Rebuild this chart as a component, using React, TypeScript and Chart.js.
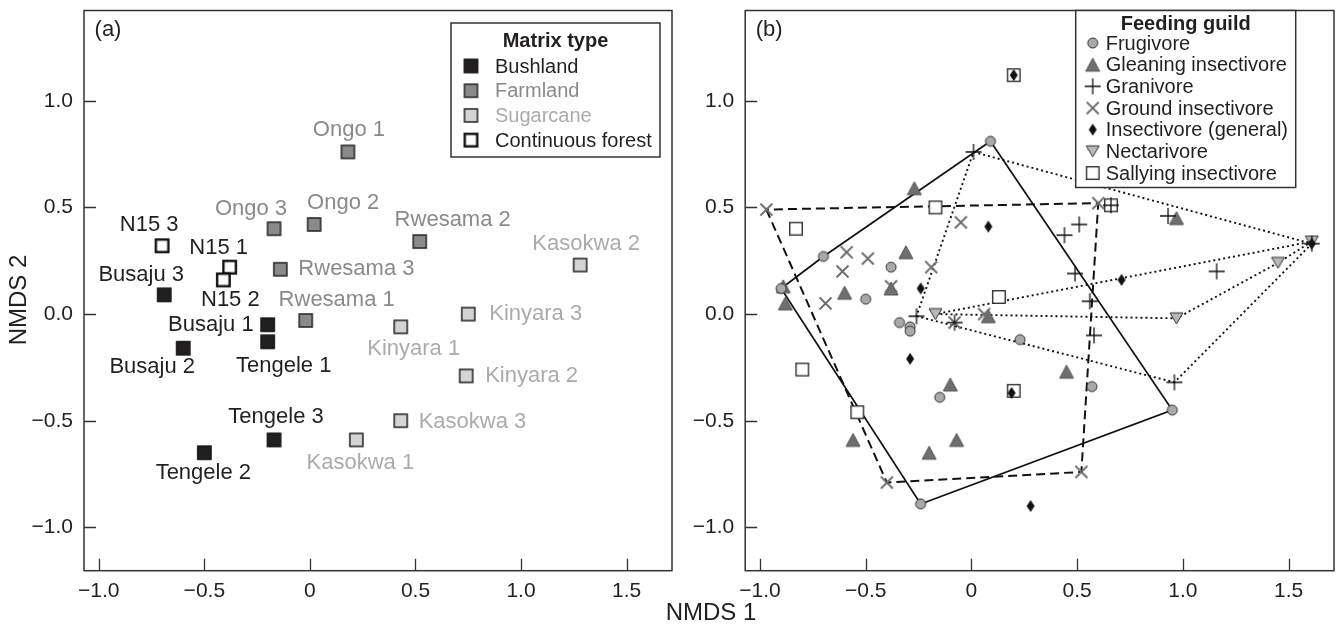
import React, { useEffect, useRef } from "react";
import { Chart, registerables } from "chart.js";
Chart.register(...registerables);

// ---------------- DATA ----------------
const xTickValues = [-1, -0.5, 0, 0.5, 1, 1.5];
const xTickLabels = ["−1.0", "−0.5", "0", "0.5", "1.0", "1.5"];
const yTickValues = [-1, -0.5, 0, 0.5, 1];
const yTickLabels = ["−1.0", "−0.5", "0.0", "0.5", "1.0"];

// Panel (a): sites by matrix type
const bushlandSites = ["Busaju 1", "Busaju 2", "Busaju 3", "Tengele 1", "Tengele 2", "Tengele 3"];
const bushlandX = [-0.2, -0.6, -0.69, -0.2, -0.5, -0.17];
const bushlandY = [-0.05, -0.16, 0.09, -0.13, -0.65, -0.59];

const farmlandSites = ["Ongo 1", "Ongo 2", "Ongo 3", "Rwesama 1", "Rwesama 2", "Rwesama 3"];
const farmlandX = [0.18, 0.02, -0.17, -0.02, 0.52, -0.14];
const farmlandY = [0.76, 0.42, 0.4, -0.03, 0.34, 0.21];

const sugarcaneSites = ["Kasokwa 1", "Kasokwa 2", "Kasokwa 3", "Kinyara 1", "Kinyara 2", "Kinyara 3"];
const sugarcaneX = [0.22, 1.28, 0.43, 0.43, 0.74, 0.75];
const sugarcaneY = [-0.59, 0.23, -0.5, -0.06, -0.29, 0.0];

const forestSites = ["N15 1", "N15 2", "N15 3"];
const forestX = [-0.38, -0.41, -0.7];
const forestY = [0.22, 0.16, 0.32];

// Panel (b): species by feeding guild
const frugivoreX = [0.09, -0.7, -0.9, -0.38, -0.5, -0.34, -0.29, -0.29, 0.23, 0.57, -0.15, 0.95, -0.24];
const frugivoreY = [0.81, 0.27, 0.12, 0.22, 0.07, -0.04, -0.06, -0.08, -0.12, -0.34, -0.39, -0.45, -0.89];

const gleaningX = [-0.27, 0.97, -0.31, -0.89, -0.88, -0.6, -0.38, 0.08, 0.45, -0.1, -0.56, -0.07, -0.2];
const gleaningY = [0.59, 0.45, 0.29, 0.13, 0.05, 0.1, 0.12, -0.01, -0.27, -0.33, -0.59, -0.59, -0.65];

const granivoreX = [0.01, 0.93, 0.44, 0.51, 0.49, 1.16, 0.56, -0.26, 0.58, 0.96, 1.61, 0.66, -0.08];
const granivoreY = [0.76, 0.46, 0.37, 0.42, 0.19, 0.2, 0.06, -0.01, -0.1, -0.32, 0.33, 0.51, -0.04];

const groundX = [-0.97, 0.6, -0.05, -0.59, -0.49, -0.61, -0.19, -0.38, -0.69, -0.08, 0.06, -0.4, 0.52];
const groundY = [0.49, 0.52, 0.43, 0.29, 0.26, 0.2, 0.22, 0.13, 0.05, -0.04, 0.0, -0.79, -0.74];

const insectivoreX = [0.2, 0.08, 0.71, -0.24, 1.61, -0.29, 0.19, 0.28];
const insectivoreY = [1.12, 0.41, 0.16, 0.12, 0.33, -0.21, -0.37, -0.9];

const nectarivoreX = [-0.17, 0.97, 1.45, 1.61];
const nectarivoreY = [0.0, -0.02, 0.24, 0.34];

const sallyingX = [-0.17, -0.83, 0.13, 0.66, 0.2, -0.8, -0.54, 0.2];
const sallyingY = [0.5, 0.4, 0.08, 0.51, 1.12, -0.26, -0.46, -0.36];

// ---------------- STYLE / LAYOUT ----------------
const FONT = "'Liberation Sans', Arial, Helvetica, sans-serif";
const INK = "#231f20";
const X_MIN = -1.07, X_MAX = 1.715, Y_MIN = -1.203, Y_MAX = 1.423;

const siteLabelPlacement: Record<string, [number, number, CanvasTextAlign]> = {
  "Busaju 1": [-14, 0, "right"],
  "Busaju 2": [-31, 19, "center"],
  "Busaju 3": [-23, -20, "center"],
  "Tengele 1": [16, 24, "center"],
  "Tengele 2": [-1, 20, "center"],
  "Tengele 3": [2, -23, "center"],
  "Ongo 1": [1, -22, "center"],
  "Ongo 2": [29, -22, "center"],
  "Ongo 3": [-23, -20, "center"],
  "Rwesama 1": [31, -21, "center"],
  "Rwesama 2": [33, -22, "center"],
  "Rwesama 3": [18, 0, "left"],
  "Kasokwa 1": [4, 23, "center"],
  "Kasokwa 2": [6, -21, "center"],
  "Kasokwa 3": [18, 1, "left"],
  "Kinyara 1": [13, 22, "center"],
  "Kinyara 2": [19, 0, "left"],
  "Kinyara 3": [21, 0, "left"],
  "N15 1": [-11, -19, "center"],
  "N15 2": [7, 20, "center"],
  "N15 3": [-13, -21, "center"],
};

type Pt = { x: number; y: number };
const toPts = (xs: number[], ys: number[]): Pt[] => xs.map((x, i) => ({ x, y: ys[i] }));

function convexHull(pts: Pt[]): Pt[] {
  const p = [...pts].sort((a, b) => a.x - b.x || a.y - b.y);
  const cr = (o: Pt, a: Pt, b: Pt) => (a.x - o.x) * (b.y - o.y) - (a.y - o.y) * (b.x - o.x);
  const lower: Pt[] = [];
  for (const q of p) {
    while (lower.length >= 2 && cr(lower[lower.length - 2], lower[lower.length - 1], q) <= 0) lower.pop();
    lower.push(q);
  }
  const upper: Pt[] = [];
  for (const q of [...p].reverse()) {
    while (upper.length >= 2 && cr(upper[upper.length - 2], upper[upper.length - 1], q) <= 0) upper.pop();
    upper.push(q);
  }
  upper.pop();
  lower.pop();
  const h = lower.concat(upper);
  h.push(h[0]);
  return h;
}

// ----- marker canvases -----
function mk(w: number, h: number, draw: (ctx: CanvasRenderingContext2D, cx: number, cy: number) => void) {
  const c = document.createElement("canvas");
  c.width = w;
  c.height = h;
  const ctx = c.getContext("2d")!;
  draw(ctx, w / 2, h / 2);
  return c;
}
const squareM = (side: number, fill: string, stroke: string, lw: number) =>
  mk(Math.ceil(side + lw + 2), Math.ceil(side + lw + 2), (ctx, cx, cy) => {
    ctx.fillStyle = fill;
    ctx.fillRect(cx - side / 2, cy - side / 2, side, side);
    ctx.strokeStyle = stroke;
    ctx.lineWidth = lw;
    ctx.strokeRect(cx - side / 2, cy - side / 2, side, side);
  });
const circleM = (d: number, fill: string, stroke: string, lw: number) =>
  mk(d + 4, d + 4, (ctx, cx, cy) => {
    ctx.beginPath();
    ctx.arc(cx, cy, d / 2, 0, Math.PI * 2);
    ctx.fillStyle = fill;
    ctx.fill();
    ctx.strokeStyle = stroke;
    ctx.lineWidth = lw;
    ctx.stroke();
  });
const triM = (w: number, h: number, fill: string, stroke: string, lw: number, down: boolean) =>
  mk(w + 4, h + 4, (ctx, cx, cy) => {
    ctx.beginPath();
    if (!down) {
      ctx.moveTo(cx, cy - h / 2);
      ctx.lineTo(cx + w / 2, cy + h / 2);
      ctx.lineTo(cx - w / 2, cy + h / 2);
    } else {
      ctx.moveTo(cx, cy + h / 2);
      ctx.lineTo(cx + w / 2, cy - h / 2);
      ctx.lineTo(cx - w / 2, cy - h / 2);
    }
    ctx.closePath();
    ctx.fillStyle = fill;
    ctx.fill();
    ctx.strokeStyle = stroke;
    ctx.lineWidth = lw;
    ctx.stroke();
  });
const plusM = (len: number, stroke: string, lw: number) =>
  mk(len + 2, len + 2, (ctx, cx, cy) => {
    ctx.beginPath();
    ctx.moveTo(cx - len / 2, cy);
    ctx.lineTo(cx + len / 2, cy);
    ctx.moveTo(cx, cy - len / 2);
    ctx.lineTo(cx, cy + len / 2);
    ctx.strokeStyle = stroke;
    ctx.lineWidth = lw;
    ctx.stroke();
  });
const crossM = (len: number, stroke: string, lw: number) =>
  mk(len + 3, len + 3, (ctx, cx, cy) => {
    const r = len / 2;
    ctx.beginPath();
    ctx.moveTo(cx - r, cy - r);
    ctx.lineTo(cx + r, cy + r);
    ctx.moveTo(cx + r, cy - r);
    ctx.lineTo(cx - r, cy + r);
    ctx.strokeStyle = stroke;
    ctx.lineWidth = lw;
    ctx.stroke();
  });
const diamondM = (w: number, h: number, fill: string) =>
  mk(w + 2, h + 2, (ctx, cx, cy) => {
    ctx.beginPath();
    ctx.moveTo(cx, cy - h / 2);
    ctx.lineTo(cx + w / 2, cy);
    ctx.lineTo(cx, cy + h / 2);
    ctx.lineTo(cx - w / 2, cy);
    ctx.closePath();
    ctx.fillStyle = fill;
    ctx.fill();
  });

type LegendItem = { label: string; color: string; marker: HTMLCanvasElement };
type Decor = {
  panelLabel: string;
  legend: {
    title: string;
    rightInset: number;
    topInset: number;
    width: number;
    height: number;
    titleDy: number;
    itemDy0: number;
    itemStep: number;
    markerDx: number;
    textDx: number;
    items: LegendItem[];
  };
  siteLabels?: { datasetIndex: number; names: string[]; color: string }[];
};

function decorPlugin(decor: Decor) {
  return {
    id: "decor",
    afterDraw(chart: any) {
      const ctx: CanvasRenderingContext2D = chart.ctx;
      const ca = chart.chartArea;
      const xs = chart.scales.x;
      const ys = chart.scales.y;
      ctx.save();
      // inward ticks
      ctx.strokeStyle = "#333";
      ctx.lineWidth = 1.3;
      ctx.beginPath();
      for (const v of xTickValues) {
        const px = Math.round(xs.getPixelForValue(v)) + 0.5;
        ctx.moveTo(px, ca.bottom);
        ctx.lineTo(px, ca.bottom - 12);
      }
      for (const v of yTickValues) {
        const py = Math.round(ys.getPixelForValue(v)) + 0.5;
        ctx.moveTo(ca.left, py);
        ctx.lineTo(ca.left + 12, py);
      }
      ctx.stroke();
      // frame
      ctx.lineWidth = 1.5;
      ctx.strokeRect(ca.left, ca.top, ca.right - ca.left, ca.bottom - ca.top);

      // site labels
      if (decor.siteLabels) {
        ctx.font = `22px ${FONT}`;
        ctx.textBaseline = "middle";
        for (const s of decor.siteLabels) {
          const meta = chart.getDatasetMeta(s.datasetIndex);
          meta.data.forEach((el: any, i: number) => {
            const name = s.names[i];
            const [dx, dy, align] = siteLabelPlacement[name] || [0, -20, "center"];
            ctx.fillStyle = s.color;
            ctx.textAlign = align;
            ctx.fillText(name, el.x + dx, el.y + dy);
          });
        }
      }

      // panel label
      ctx.font = `22px ${FONT}`;
      ctx.fillStyle = INK;
      ctx.textAlign = "center";
      ctx.textBaseline = "middle";
      ctx.fillText(decor.panelLabel, ca.left + 24, ca.top + 19);

      // legend
      const L = decor.legend;
      const bx = ca.right - L.rightInset - L.width;
      const by = ca.top + L.topInset;
      ctx.fillStyle = "#fff";
      ctx.fillRect(bx, by, L.width, L.height);
      ctx.strokeStyle = "#333";
      ctx.lineWidth = 1.5;
      ctx.strokeRect(bx, by, L.width, L.height);
      ctx.font = `bold 20px ${FONT}`;
      ctx.fillStyle = INK;
      ctx.textAlign = "center";
      ctx.fillText(L.title, bx + L.width / 2, by + L.titleDy);
      ctx.font = `20px ${FONT}`;
      ctx.textAlign = "left";
      L.items.forEach((it, i) => {
        const y = by + L.itemDy0 + i * L.itemStep;
        const m = it.marker;
        ctx.drawImage(m, bx + L.markerDx - m.width / 2, y - m.height / 2);
        ctx.fillStyle = it.color;
        ctx.fillText(it.label, bx + L.textDx, y + 1);
      });
      ctx.restore();
    },
  };
}

function scalesConfig(yWidth: number) {
  return {
    x: {
      type: "linear",
      min: X_MIN,
      max: X_MAX,
      grid: { display: false, drawTicks: false },
      border: { display: false },
      afterBuildTicks: (s: any) => {
        s.ticks = xTickValues.map((v) => ({ value: v }));
      },
      afterFit: (s: any) => {
        s.height = 45;
        s.paddingLeft = 0;
        s.paddingRight = 0;
        s.paddingTop = 0;
        s.paddingBottom = 0;
      },
      ticks: {
        padding: 8,
        color: INK,
        font: { family: FONT, size: 21 },
        maxRotation: 0,
        autoSkip: false,
        callback: (v: number) => xTickLabels[xTickValues.findIndex((t) => Math.abs(t - v) < 1e-9)] ?? "",
      },
    },
    y: {
      type: "linear",
      min: Y_MIN,
      max: Y_MAX,
      grid: { display: false, drawTicks: false },
      border: { display: false },
      afterBuildTicks: (s: any) => {
        s.ticks = yTickValues.map((v) => ({ value: v }));
      },
      afterFit: (s: any) => {
        s.width = yWidth;
        s.paddingLeft = 0;
        s.paddingRight = 0;
        s.paddingTop = 0;
        s.paddingBottom = 0;
      },
      ticks: {
        padding: 11,
        color: INK,
        font: { family: FONT, size: 21 },
        autoSkip: false,
        callback: (v: number) => yTickLabels[yTickValues.findIndex((t) => Math.abs(t - v) < 1e-9)] ?? "",
      },
    },
  };
}

export default function App() {
  const refA = useRef<HTMLCanvasElement>(null);
  const refB = useRef<HTMLCanvasElement>(null);

  useEffect(() => {
    // markers panel a
    const mBush = squareM(13.5, "#231f20", "#111", 1.2);
    const mFarm = squareM(13, "#8a8a8a", "#2b2b2b", 1.6);
    const mSugar = squareM(13, "#d4d4d4", "#2b2b2b", 1.6);
    const mForest = squareM(12.5, "#ffffff", "#111", 2.4);

    // markers panel b
    const mFrug = circleM(10, "#a9a9a9", "#333", 1);
    const mGlean = triM(14, 13, "#6f6f6f", "#555", 1, false);
    const mGran = plusM(16, "#111", 1.3);
    const mGround = crossM(12, "#6b6b6b", 1.8);
    const mInsect = diamondM(8, 12, "#111");
    const mNect = triM(13, 11, "#b8b8b8", "#333", 1, true);
    const mSally = squareM(12.5, "#ffffff", "#222", 1.3);

    const common = {
      responsive: false,
      animation: false,
      events: [],
      plugins: { legend: { display: false }, tooltip: { enabled: false } },
    };

    const chartA = new Chart(refA.current!, {
      type: "scatter",
      data: {
        datasets: [
          { data: toPts(bushlandX, bushlandY), pointStyle: mBush, pointRadius: 7 },
          { data: toPts(farmlandX, farmlandY), pointStyle: mFarm, pointRadius: 7 },
          { data: toPts(sugarcaneX, sugarcaneY), pointStyle: mSugar, pointRadius: 7 },
          { data: toPts(forestX, forestY), pointStyle: mForest, pointRadius: 7 },
        ] as any,
      },
      options: {
        ...common,
        layout: { padding: { left: 0, right: 2.8, top: 10.5, bottom: 10.3 } },
        scales: scalesConfig(84) as any,
      } as any,
      plugins: [
        decorPlugin({
          panelLabel: "(a)",
          siteLabels: [
            { datasetIndex: 0, names: bushlandSites, color: INK },
            { datasetIndex: 1, names: farmlandSites, color: "#8a8a8a" },
            { datasetIndex: 2, names: sugarcaneSites, color: "#ababab" },
            { datasetIndex: 3, names: forestSites, color: INK },
          ],
          legend: {
            title: "Matrix type",
            rightInset: 12,
            topInset: 12.5,
            width: 209,
            height: 134,
            titleDy: 18,
            itemDy0: 43,
            itemStep: 24.7,
            markerDx: 20,
            textDx: 44,
            items: [
              { label: "Bushland", color: INK, marker: mBush },
              { label: "Farmland", color: "#8a8a8a", marker: mFarm },
              { label: "Sugarcane", color: "#ababab", marker: mSugar },
              { label: "Continuous forest", color: INK, marker: mForest },
            ],
          },
        }) as any,
      ],
    });

    const hullStyle = (pts: Pt[], dash: number[], width: number) => ({
      data: convexHull(pts),
      showLine: true,
      borderColor: "#111",
      borderWidth: width,
      borderDash: dash,
      pointRadius: 0,
      fill: false,
      tension: 0,
      order: 5,
    });

    const chartB = new Chart(refB.current!, {
      type: "scatter",
      data: {
        datasets: [
          { data: toPts(insectivoreX, insectivoreY), pointStyle: mInsect, pointRadius: 6, order: 0 },
          { data: toPts(granivoreX, granivoreY), pointStyle: mGran, pointRadius: 6, order: 0 },
          { data: toPts(groundX, groundY), pointStyle: mGround, pointRadius: 6, order: 0 },
          { data: toPts(frugivoreX, frugivoreY), pointStyle: mFrug, pointRadius: 6, order: 0 },
          { data: toPts(gleaningX, gleaningY), pointStyle: mGlean, pointRadius: 6, order: 0 },
          { data: toPts(nectarivoreX, nectarivoreY), pointStyle: mNect, pointRadius: 6, order: 0 },
          { data: toPts(sallyingX, sallyingY), pointStyle: mSally, pointRadius: 6, order: 0 },
          hullStyle(toPts(frugivoreX, frugivoreY), [], 1.7),
          hullStyle(toPts(groundX, groundY), [9, 5], 2),
          hullStyle(toPts(granivoreX, granivoreY), [2, 3], 1.9),
          hullStyle(toPts(nectarivoreX, nectarivoreY), [2, 3], 1.9),
        ] as any,
      },
      options: {
        ...common,
        layout: { padding: { left: 0, right: 2.7, top: 10.5, bottom: 10.3 } },
        scales: scalesConfig(65.2) as any,
      } as any,
      plugins: [
        decorPlugin({
          panelLabel: "(b)",
          legend: {
            title: "Feeding guild",
            rightInset: 38.3,
            topInset: 0,
            width: 220,
            height: 177,
            titleDy: 13.5,
            itemDy0: 32.5,
            itemStep: 21.67,
            markerDx: 17,
            textDx: 30,
            items: [
              { label: "Frugivore", color: INK, marker: mFrug },
              { label: "Gleaning insectivore", color: INK, marker: mGlean },
              { label: "Granivore", color: INK, marker: mGran },
              { label: "Ground insectivore", color: INK, marker: mGround },
              { label: "Insectivore (general)", color: INK, marker: mInsect },
              { label: "Nectarivore", color: INK, marker: mNect },
              { label: "Sallying insectivore", color: INK, marker: mSally },
            ],
          },
        }) as any,
      ],
    });

    return () => {
      chartA.destroy();
      chartB.destroy();
    };
  }, []);

  return (
    <div
      style={{
        position: "absolute",
        left: 0,
        top: 0,
        width: 1341,
        height: 626,
        background: "#fff",
        overflow: "hidden",
        fontFamily: FONT,
        color: INK,
      }}
    >
      <canvas ref={refA} width={680} height={626} style={{ position: "absolute", left: 0, top: 0 }} />
      <canvas ref={refB} width={661} height={626} style={{ position: "absolute", left: 680, top: 0 }} />
      <div
        style={{
          position: "absolute",
          left: 611,
          top: 600,
          width: 200,
          height: 24,
          lineHeight: "24px",
          fontSize: 24,
          textAlign: "center",
        }}
      >
        NMDS 1
      </div>
      <div
        style={{
          position: "absolute",
          left: 18.3 - 100,
          top: 288,
          width: 200,
          height: 24,
          lineHeight: "24px",
          fontSize: 24,
          textAlign: "center",
          transform: "rotate(-90deg)",
        }}
      >
        NMDS 2
      </div>
    </div>
  );
}
